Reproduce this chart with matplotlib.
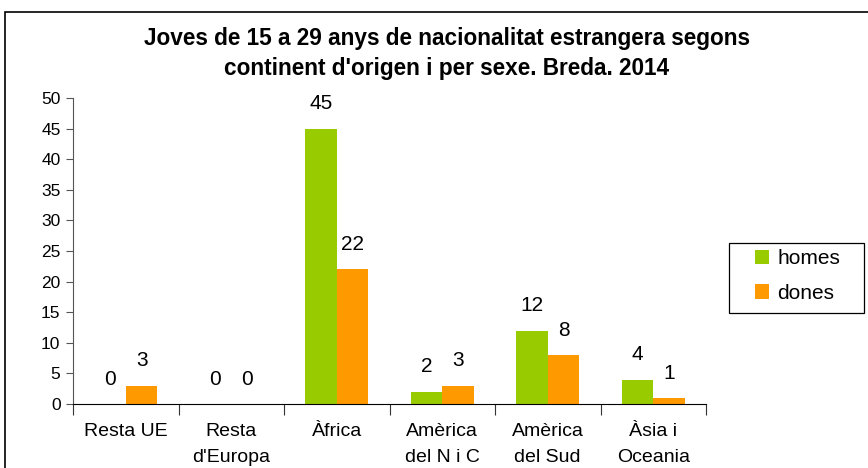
import matplotlib
matplotlib.use("Agg")
import matplotlib.pyplot as plt
import numpy as np
from matplotlib.patches import Rectangle

categories = ["Resta UE", "Resta\nd'Europa", "Àfrica", "Amèrica\ndel N i C", "Amèrica\ndel Sud", "Àsia i\nOceania"]
homes = [0, 0, 45, 2, 12, 4]
dones = [3, 0, 22, 3, 8, 1]
yticks = [0, 5, 10, 15, 20, 25, 30, 35, 40, 45, 50]

plt.rcParams['font.family'] = ['Liberation Sans', 'DejaVu Sans']

W, H = 868, 468
fig = plt.figure(figsize=(W/100, H/100), dpi=100)
ax = fig.add_axes([73/W, 1 - 404/H, (706-73)/W, (404-98)/H])

x = np.arange(len(categories))
bw = 0.3
green = '#99cc00'
orange = '#ff9900'
ax.bar(x - bw/2, homes, bw, color=green, label='homes')
ax.bar(x + bw/2, dones, bw, color=orange, label='dones')

for xi, v in zip(x, homes):
    ax.annotate(str(v), (xi - bw/2, v), xytext=(0, 11), textcoords='offset points',
                ha='center', va='bottom', fontsize=15)
for xi, v in zip(x, dones):
    ax.annotate(str(v), (xi + bw/2, v), xytext=(0, 11), textcoords='offset points',
                ha='center', va='bottom', fontsize=15)

ax.set_xlim(-0.5, len(categories) - 0.5)
ax.set_ylim(0, 50)
ax.set_yticks(yticks)
ax.tick_params(axis='y', labelsize=12.5, direction='out', length=5, pad=4, color='#555555')
ax.set_xticks(np.arange(len(categories) + 1) - 0.5)
ax.set_xticklabels([])
ax.tick_params(axis='x', direction='out', length=8, color='#333333')
ax.set_xticks(x, minor=True)
ax.set_xticklabels(categories, minor=True, fontsize=14, linespacing=1.65)
ax.tick_params(axis='x', which='minor', length=0, pad=14)
for s in ['top', 'right']:
    ax.spines[s].set_visible(False)
ax.spines['left'].set_color('#555555')
ax.spines['bottom'].set_color('#000000')

fig.text(447/W, 1 - 38/H, "Joves de 15 a 29 anys de nacionalitat estrangera segons",
         ha='center', va='center', fontsize=16.3, fontweight='bold')
fig.text(447/W, 1 - 68/H, "continent d'origen i per sexe. Breda. 2014",
         ha='center', va='center', fontsize=16.3, fontweight='bold')

# legend frame
fig.patches.append(Rectangle((729/W, 1 - 313/H), (864-729)/W, 70/H, transform=fig.transFigure,
                             fill=False, edgecolor='#000000', linewidth=0.9, figure=fig, zorder=5))
leg = ax.legend(loc='center left', bbox_to_anchor=(755/W, 1 - 276/H), bbox_transform=fig.transFigure,
                fontsize=15, frameon=False,
                handlelength=0.67, handleheight=0.67, labelspacing=0.75, borderpad=0,
                handletextpad=0.4, borderaxespad=0)

fig.patches.append(Rectangle((5/W, -0.1), 1.2, 1.1 - 12/H, transform=fig.transFigure,
                             fill=False, edgecolor='#000000', linewidth=1.2, figure=fig))

fig.savefig('out.png', dpi=100)
